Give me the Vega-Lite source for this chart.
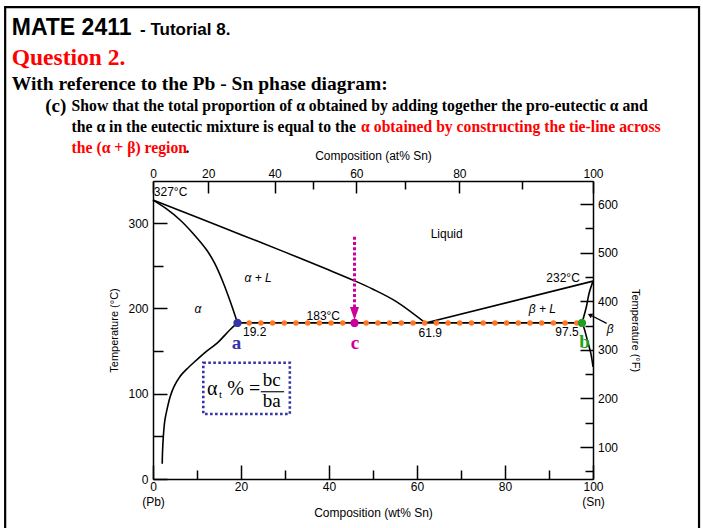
{
  "$schema": "https://vega.github.io/schema/vega-lite/v6.json",
  "width": 440,
  "height": 298,
  "autosize": {"type": "none"},
  "padding": {"left": 153, "top": 181, "right": 110, "bottom": 49},
  "background": "white",
  "config": {
    "view": {"stroke": null},
    "axis": {
      "domainColor": "black", "domainWidth": 1.5, "tickColor": "black", "tickWidth": 1.5,
      "labelFont": "Liberation Sans", "labelFontSize": 12, "labelColor": "black",
      "titleFont": "Liberation Sans", "titleFontSize": 11, "titleFontWeight": "normal", "titleColor": "black",
      "grid": false, "labelFlush": false, "labelOverlap": false
    }
  },
  "datasets": {
    "curves": [
      {"c": "liqL", "o": 0, "wt": 0, "T": 327}, {"c": "liqL", "o": 1, "wt": 10, "T": 307}, {"c": "liqL", "o": 2, "wt": 20, "T": 286.5},
      {"c": "liqL", "o": 3, "wt": 30, "T": 266}, {"c": "liqL", "o": 4, "wt": 40, "T": 245}, {"c": "liqL", "o": 5, "wt": 46, "T": 232},
      {"c": "liqL", "o": 6, "wt": 50, "T": 222.5}, {"c": "liqL", "o": 7, "wt": 55.3, "T": 208}, {"c": "liqL", "o": 8, "wt": 61.9, "T": 183},
      {"c": "solA", "o": 0, "wt": 0, "T": 327}, {"c": "solA", "o": 1, "wt": 3, "T": 317}, {"c": "solA", "o": 2, "wt": 6.1, "T": 304},
      {"c": "solA", "o": 3, "wt": 9, "T": 288.5}, {"c": "solA", "o": 4, "wt": 12.2, "T": 268.5}, {"c": "solA", "o": 5, "wt": 14, "T": 253},
      {"c": "solA", "o": 6, "wt": 15.9, "T": 231}, {"c": "solA", "o": 7, "wt": 17.6, "T": 207.5}, {"c": "solA", "o": 8, "wt": 19.2, "T": 183},
      {"c": "solvA", "o": 0, "wt": 19.2, "T": 183}, {"c": "solvA", "o": 1, "wt": 17.5, "T": 175}, {"c": "solvA", "o": 2, "wt": 14.5, "T": 159},
      {"c": "solvA", "o": 3, "wt": 12, "T": 149}, {"c": "solvA", "o": 4, "wt": 9.9, "T": 139.5}, {"c": "solvA", "o": 5, "wt": 8, "T": 130.5},
      {"c": "solvA", "o": 6, "wt": 6.1, "T": 120}, {"c": "solvA", "o": 7, "wt": 4.8, "T": 108.5}, {"c": "solvA", "o": 8, "wt": 3.9, "T": 96.5},
      {"c": "solvA", "o": 9, "wt": 3.2, "T": 82}, {"c": "solvA", "o": 10, "wt": 2.7, "T": 69}, {"c": "solvA", "o": 11, "wt": 2.35, "T": 50},
      {"c": "solvA", "o": 12, "wt": 2.15, "T": 30}, {"c": "solvA", "o": 13, "wt": 2.1, "T": 18},
      {"c": "liqR", "o": 0, "wt": 61.9, "T": 183}, {"c": "liqR", "o": 1, "wt": 100, "T": 232},
      {"c": "solB", "o": 0, "wt": 97.5, "T": 183}, {"c": "solB", "o": 1, "wt": 98.5, "T": 202}, {"c": "solB", "o": 2, "wt": 99.1, "T": 217.5},
      {"c": "solB", "o": 3, "wt": 100, "T": 232},
      {"c": "solvB", "o": 0, "wt": 97.5, "T": 183}, {"c": "solvB", "o": 1, "wt": 98, "T": 176.5}, {"c": "solvB", "o": 2, "wt": 98.7, "T": 163},
      {"c": "solvB", "o": 3, "wt": 99.5, "T": 147.5}, {"c": "solvB", "o": 4, "wt": 100, "T": 131.5}
    ],
    "eut": [{"wt": 19.2, "T": 183}, {"wt": 97.5, "T": 183}],
    "arrowC": [{"wt": 45.8, "T": 284}, {"wt": 45.8, "T": 200}],
    "headC": [{"wt": 45.8, "T": 194}],
    "pts": [{"p": "a", "wt": 19.2, "T": 183}, {"p": "c", "wt": 45.8, "T": 183}, {"p": "b", "wt": 97.5, "T": 183}],
    "letters": [{"p": "a", "wt": 19.0, "T": 159.5}, {"p": "c", "wt": 45.9, "T": 159.5}, {"p": "b", "wt": 98.1, "T": 160.8}],
    "nums": [
      {"t": "327°C", "wt": 4.0, "T": 336}, {"t": "183°C", "wt": 38.7, "T": 191.5}, {"t": "232°C", "wt": 93.2, "T": 236},
      {"t": "19.2", "wt": 23.1, "T": 172.5}, {"t": "61.9", "wt": 63.0, "T": 171.2}, {"t": "97.5", "wt": 94.1, "T": 172.7},
      {"t": "Liquid", "wt": 66.75, "T": 286.9}
    ],
    "regions": [
      {"t": "α + L", "wt": 23.9, "T": 236}, {"t": "α", "wt": 10.2, "T": 199},
      {"t": "β + L", "wt": 88.5, "T": 199}, {"t": "β", "wt": 103.9, "T": 175.5}
    ],
    "betaArrow": [{"wt": 103.1, "T": 182.5, "wt2": 99.6, "T2": 191.6}],
    "betaHead": [{"wt": 99.3, "T": 192.3}],
    "box": [{"wt": 11.43, "wt2": 31.1, "T": 136.3, "T2": 76.2}],
    "formula": [{"s": "α", "wt": 12.3, "T": 98.5}, {"s": "% =", "wt": 16.9, "T": 98.5}],
    "sub": [{"s": "t", "wt": 15.0, "T": 94.6}],
    "frac": [{"s": "bc", "wt": 27.0, "T": 109}, {"s": "ba", "wt": 27.0, "T": 84}],
    "fracLine": [{"wt": 24.5, "wt2": 29.8, "T": 102.3}]
  },
  "layer": [
    {
      "data": {"name": "curves"},
      "mark": {"type": "line", "color": "black", "strokeWidth": 1.6, "interpolate": "catmull-rom"},
      "encoding": {
        "x": {"field": "wt", "type": "quantitative", "scale": {"domain": [0, 100], "nice": false, "zero": false},
          "axis": {"orient": "bottom", "values": [0, 10, 20, 30, 40, 50, 60, 70, 80, 90, 100],
            "labelExpr": "datum.value == 0 ? ['0', '(Pb)'] : (datum.value == 100 ? ['100', '(Sn)'] : (datum.value % 20 == 0 ? datum.label : ''))",
            "tickSize": {"condition": {"test": "datum.value % 20 == 0", "value": -14}, "value": -9},
            "labelPadding": 16, "labelLineHeight": 15, "title": "Composition (wt% Sn)", "titlePadding": 0, "titleFontSize": 12}},
        "y": {"field": "T", "type": "quantitative", "scale": {"domain": [0, 349.4], "nice": false, "zero": false},
          "axis": {"orient": "left", "values": [0, 50, 100, 150, 200, 250, 300],
            "labelExpr": "datum.value % 100 == 0 ? datum.label : ''",
            "tickSize": {"condition": {"test": "datum.value % 100 == 0", "value": -14}, "value": -10},
            "labelPadding": 19, "title": "Temperature (°C)", "titlePadding": 8}},
        "detail": {"field": "c"},
        "order": {"field": "o", "type": "quantitative"}
      }
    },
    {
      "data": {"name": "eut"},
      "mark": {"type": "line", "color": "black", "strokeWidth": 1.6},
      "encoding": {
        "x": {"field": "wt", "type": "quantitative",
          "axis": {"orient": "top", "values": [0, 12.53, 27.64, 36.42, 46.22, 57.21, 69.62, 83.76, 100],
            "labelExpr": "round(100 * (datum.value / 118.71) / (datum.value / 118.71 + (100 - datum.value) / 207.2)) % 20 == 0 ? format(round(100 * (datum.value / 118.71) / (datum.value / 118.71 + (100 - datum.value) / 207.2)), 'd') : ''",
            "tickSize": {"condition": {"test": "datum.value == 36.42 || datum.value == 57.21 || datum.value == 83.76", "value": -8}, "value": -12},
            "labelPadding": 12.5, "title": "Composition (at% Sn)", "titlePadding": 1, "titleFontSize": 12}},
        "y": {"field": "T", "type": "quantitative",
          "axis": {"orient": "right", "values": [9.03, 37.51, 66.0, 94.49, 122.98, 151.47, 179.95, 208.44, 236.93, 265.42, 293.9, 322.39],
            "labelExpr": "round(100 + (datum.value * 0.853 - 32) / 0.486) % 100 == 0 ? format(round(100 + (datum.value * 0.853 - 32) / 0.486), 'd') : ''",
            "tickSize": {"condition": {"test": "round(100 + (datum.value * 0.853 - 32) / 0.486) % 100 == 0", "value": -13}, "value": -8},
            "labelPadding": 17.5, "title": "Temperature (°F)", "titlePadding": 12}}
      }
    },
    {
      "data": {"name": "eut"},
      "mark": {"type": "line", "color": "#ff7722", "strokeWidth": 5.5, "strokeDash": [0, 11.7], "strokeCap": "round"},
      "encoding": {
        "x": {"field": "wt", "type": "quantitative", "axis": null},
        "y": {"field": "T", "type": "quantitative", "axis": null}
      }
    },
    {
      "data": {"name": "arrowC"},
      "mark": {"type": "line", "color": "#cc0099", "strokeWidth": 3, "strokeDash": [3, 2.2]},
      "encoding": {
        "x": {"field": "wt", "type": "quantitative", "axis": null},
        "y": {"field": "T", "type": "quantitative", "axis": null}
      }
    },
    {
      "data": {"name": "headC"},
      "mark": {"type": "point", "shape": "M-0.7,-1L0.7,-1L0,1Z", "size": 169, "filled": true, "color": "#cc0099", "opacity": 1},
      "encoding": {
        "x": {"field": "wt", "type": "quantitative", "axis": null},
        "y": {"field": "T", "type": "quantitative", "axis": null}
      }
    },
    {
      "data": {"name": "pts"},
      "mark": {"type": "point", "shape": "circle", "size": 70, "filled": true, "opacity": 1},
      "encoding": {
        "x": {"field": "wt", "type": "quantitative", "axis": null},
        "y": {"field": "T", "type": "quantitative", "axis": null},
        "color": {"field": "p", "type": "nominal", "scale": {"domain": ["a", "c", "b"], "range": ["#3535a8", "#cc0099", "#1f9e1f"]}, "legend": null}
      }
    },
    {
      "data": {"name": "letters"},
      "mark": {"type": "text", "font": "Liberation Serif", "fontWeight": "bold", "fontSize": 19, "baseline": "middle"},
      "encoding": {
        "x": {"field": "wt", "type": "quantitative", "axis": null},
        "y": {"field": "T", "type": "quantitative", "axis": null},
        "text": {"field": "p"},
        "color": {"field": "p", "type": "nominal", "scale": {"domain": ["a", "c", "b"], "range": ["#3535a8", "#cc0099", "#1f9e1f"]}, "legend": null}
      }
    },
    {
      "data": {"name": "nums"},
      "mark": {"type": "text", "font": "Liberation Sans", "fontSize": 12, "color": "black", "baseline": "middle"},
      "encoding": {
        "x": {"field": "wt", "type": "quantitative", "axis": null},
        "y": {"field": "T", "type": "quantitative", "axis": null},
        "text": {"field": "t"}
      }
    },
    {
      "data": {"name": "regions"},
      "mark": {"type": "text", "font": "Liberation Sans", "fontSize": 12, "fontStyle": "italic", "color": "black", "baseline": "middle"},
      "encoding": {
        "x": {"field": "wt", "type": "quantitative", "axis": null},
        "y": {"field": "T", "type": "quantitative", "axis": null},
        "text": {"field": "t"}
      }
    },
    {
      "data": {"name": "betaArrow"},
      "mark": {"type": "rule", "color": "black", "strokeWidth": 1.2},
      "encoding": {
        "x": {"field": "wt", "type": "quantitative", "axis": null},
        "y": {"field": "T", "type": "quantitative", "axis": null},
        "x2": {"field": "wt2"},
        "y2": {"field": "T2"}
      }
    },
    {
      "data": {"name": "betaHead"},
      "mark": {"type": "point", "shape": "triangle-up", "size": 28, "angle": -64, "filled": true, "color": "black", "opacity": 1},
      "encoding": {
        "x": {"field": "wt", "type": "quantitative", "axis": null},
        "y": {"field": "T", "type": "quantitative", "axis": null}
      }
    },
    {
      "data": {"name": "box"},
      "mark": {"type": "rect", "fill": "white", "stroke": "#3535a8", "strokeWidth": 2.6, "strokeDash": [2.6, 2.4]},
      "encoding": {
        "x": {"field": "wt", "type": "quantitative", "axis": null},
        "x2": {"field": "wt2"},
        "y": {"field": "T", "type": "quantitative", "axis": null},
        "y2": {"field": "T2"}
      }
    },
    {
      "data": {"name": "formula"},
      "mark": {"type": "text", "font": "Liberation Serif", "fontSize": 20, "color": "black", "align": "left", "baseline": "alphabetic"},
      "encoding": {
        "x": {"field": "wt", "type": "quantitative", "axis": null},
        "y": {"field": "T", "type": "quantitative", "axis": null},
        "text": {"field": "s"}
      }
    },
    {
      "data": {"name": "sub"},
      "mark": {"type": "text", "font": "Liberation Serif", "fontSize": 11, "color": "black", "align": "left", "baseline": "alphabetic"},
      "encoding": {
        "x": {"field": "wt", "type": "quantitative", "axis": null},
        "y": {"field": "T", "type": "quantitative", "axis": null},
        "text": {"field": "s"}
      }
    },
    {
      "data": {"name": "frac"},
      "mark": {"type": "text", "font": "Liberation Serif", "fontSize": 19, "color": "black", "align": "center", "baseline": "alphabetic"},
      "encoding": {
        "x": {"field": "wt", "type": "quantitative", "axis": null},
        "y": {"field": "T", "type": "quantitative", "axis": null},
        "text": {"field": "s"}
      }
    },
    {
      "data": {"name": "fracLine"},
      "mark": {"type": "rule", "color": "black", "strokeWidth": 1.1},
      "encoding": {
        "x": {"field": "wt", "type": "quantitative", "axis": null},
        "x2": {"field": "wt2"},
        "y": {"field": "T", "type": "quantitative", "axis": null}
      }
    },
    {
      "data": {"values": [{"s": "frame"}]},
      "mark": {"type": "rect", "fillOpacity": 0, "stroke": "black", "strokeWidth": 2.2},
      "encoding": {
        "x": {"datum": -33.6, "type": "quantitative", "axis": null},
        "x2": {"datum": 124.1},
        "y": {"datum": 553.3, "type": "quantitative", "axis": null},
        "y2": {"datum": -65.6}
      }
    },
    {
      "data": {"values": [{"s": "MATE 2411"}]},
      "mark": {"type": "text", "font": "Liberation Sans", "fontWeight": "bold", "fontSize": 23, "color": "black", "align": "left", "baseline": "alphabetic"},
      "encoding": {
        "x": {"datum": -32.1, "type": "quantitative", "axis": null},
        "y": {"datum": 520.5, "type": "quantitative", "axis": null},
        "text": {"field": "s"}
      }
    },
    {
      "data": {"values": [{"s": "- Tutorial 8."}]},
      "mark": {"type": "text", "font": "Liberation Sans", "fontWeight": "bold", "fontSize": 17, "color": "black", "align": "left", "baseline": "alphabetic"},
      "encoding": {
        "x": {"datum": -2.95, "type": "quantitative", "axis": null},
        "y": {"datum": 520.5, "type": "quantitative", "axis": null},
        "text": {"field": "s"}
      }
    },
    {
      "data": {"values": [{"s": "Question 2."}]},
      "mark": {"type": "text", "font": "Liberation Serif", "fontWeight": "bold", "fontSize": 23.5, "color": "#ff0000", "align": "left", "baseline": "alphabetic"},
      "encoding": {
        "x": {"datum": -32.1, "type": "quantitative", "axis": null},
        "y": {"datum": 485.3, "type": "quantitative", "axis": null},
        "text": {"field": "s"}
      }
    },
    {
      "data": {"values": [{"s": "With reference to the Pb - Sn phase diagram:"}]},
      "mark": {"type": "text", "font": "Liberation Serif", "fontWeight": "bold", "fontSize": 19.5, "color": "black", "align": "left", "baseline": "alphabetic"},
      "encoding": {
        "x": {"datum": -32.1, "type": "quantitative", "axis": null},
        "y": {"datum": 456.0, "type": "quantitative", "axis": null},
        "text": {"field": "s"}
      }
    },
    {
      "data": {"values": [{"s": "(c)"}]},
      "mark": {"type": "text", "font": "Liberation Serif", "fontWeight": "bold", "fontSize": 19, "color": "black", "align": "left", "baseline": "alphabetic"},
      "encoding": {
        "x": {"datum": -24.5, "type": "quantitative", "axis": null},
        "y": {"datum": 430.2, "type": "quantitative", "axis": null},
        "text": {"field": "s"}
      }
    },
    {
      "data": {"values": [{"s": "Show that the total proportion of α obtained by adding together the pro-eutectic α and"}]},
      "mark": {"type": "text", "font": "Liberation Serif", "fontWeight": "bold", "fontSize": 15.7, "color": "black", "align": "left", "baseline": "alphabetic"},
      "encoding": {
        "x": {"datum": -18.5, "type": "quantitative", "axis": null},
        "y": {"datum": 431.4, "type": "quantitative", "axis": null},
        "text": {"field": "s"}
      }
    },
    {
      "data": {"values": [{"s": "the α in the eutectic mixture is equal to the"}]},
      "mark": {"type": "text", "font": "Liberation Serif", "fontWeight": "bold", "fontSize": 15.7, "color": "black", "align": "left", "baseline": "alphabetic"},
      "encoding": {
        "x": {"datum": -18.5, "type": "quantitative", "axis": null},
        "y": {"datum": 407.4, "type": "quantitative", "axis": null},
        "text": {"field": "s"}
      }
    },
    {
      "data": {"values": [{"s": "α obtained by constructing the tie-line across"}]},
      "mark": {"type": "text", "font": "Liberation Serif", "fontWeight": "bold", "fontSize": 15.7, "color": "#ff0000", "align": "left", "baseline": "alphabetic"},
      "encoding": {
        "x": {"datum": 47.3, "type": "quantitative", "axis": null},
        "y": {"datum": 407.4, "type": "quantitative", "axis": null},
        "text": {"field": "s"}
      }
    },
    {
      "data": {"values": [{"s": "the (α + β) region"}]},
      "mark": {"type": "text", "font": "Liberation Serif", "fontWeight": "bold", "fontSize": 15.7, "color": "#ff0000", "align": "left", "baseline": "alphabetic"},
      "encoding": {
        "x": {"datum": -18.5, "type": "quantitative", "axis": null},
        "y": {"datum": 382.2, "type": "quantitative", "axis": null},
        "text": {"field": "s"}
      }
    },
    {
      "data": {"values": [{"s": "."}]},
      "mark": {"type": "text", "font": "Liberation Serif", "fontWeight": "bold", "fontSize": 15.7, "color": "black", "align": "left", "baseline": "alphabetic"},
      "encoding": {
        "x": {"datum": 7.4, "type": "quantitative", "axis": null},
        "y": {"datum": 382.2, "type": "quantitative", "axis": null},
        "text": {"field": "s"}
      }
    }
  ]
}
